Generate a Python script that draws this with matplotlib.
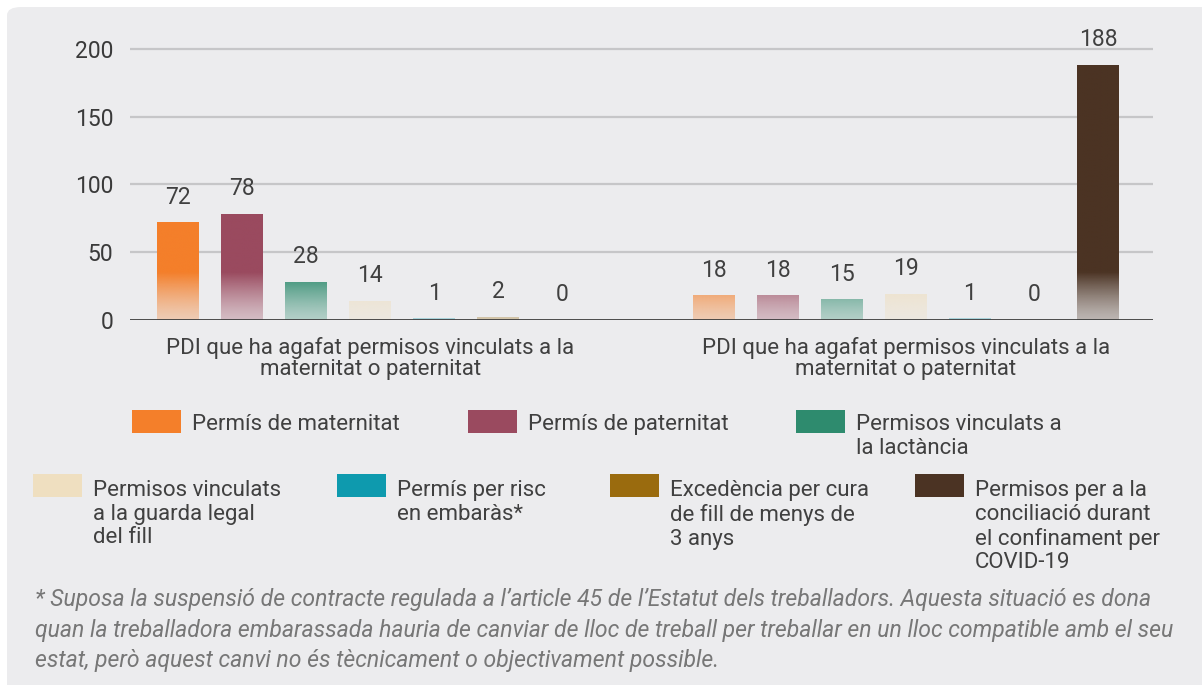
import numpy as np
import matplotlib.pyplot as plt
from matplotlib.patches import FancyBboxPatch, Rectangle
from matplotlib.colors import to_rgb

plt.rcParams['font.family'] = ['Roboto', 'DejaVu Sans']

# -------------------------------
# Data
# -------------------------------

groups = ["PDI que ha agafat permisos vinculats a la\nmaternitat o paternitat",
          "PDI que ha agafat permisos vinculats a la\nmaternitat o paternitat"]

series = ["Permís de maternitat",
          "Permís de paternitat",
          "Permisos vinculats a\nla lactància",
          "Permisos vinculats\na la guarda legal\ndel fill",
          "Permís per risc\nen embaràs*",
          "Excedència per cura\nde fill de menys de\n3 anys",
          "Permisos per a la\nconciliació durant\nel confinament per\nCOVID-19"]

values = [[72, 78, 28, 14, 1, 2, 0],
          [18, 18, 15, 19, 1, 0, 188]]

colors = ['#f47f2a', '#9a4a5f', '#2e8b6e', '#efdfc0', '#0e9aae', '#9a6b0e', '#4b3323']

footnote = ("* Suposa la suspensió de contracte regulada a l’article 45 de l’Estatut dels treballadors. Aquesta situació es dona\n"
            "quan la treballadora embarassada hauria de canviar de lloc de treball per treballar en un lloc compatible amb el seu\n"
            "estat, però aquest canvi no és tècnicament o objectivament possible.")

W, H = 1202, 685
fig = plt.figure(figsize=(W / 100, H / 100), dpi=100)
fig.patch.set_facecolor('white')

# rounded grey panel
panel = FancyBboxPatch((7 / W, -0.02), 1.05, (H - 7) / H + 0.02,
                       boxstyle="round,pad=0,rounding_size=0.012",
                       transform=fig.transFigure, facecolor='#ececee',
                       edgecolor='none', zorder=-10)
fig.patches.append(panel)

ax = fig.add_axes([130 / W, (H - 320) / H, (1153 - 130) / W, 280.5 / H])
ax.set_facecolor('none')

# -------------------------------
# Bars with vertical gradient
# -------------------------------

step = 0.1194
width = 0.078
fade = 35.0
n = len(series)

for g, vals in enumerate(values):
    for j, v in enumerate(vals):
        x = g + (j - (n - 1) / 2) * step
        if v > 0:
            ys = np.linspace(0, v, 200)
            alpha = 0.3 + 0.7 * np.clip(ys / fade, 0, 1) ** 1.3
            img = np.zeros((200, 1, 4))
            img[:, 0, :3] = to_rgb(colors[j])
            img[:, 0, 3] = alpha
            ax.imshow(img, extent=(x - width / 2, x + width / 2, 0, v),
                      origin='lower', aspect='auto', interpolation='bilinear',
                      zorder=3)
        ax.annotate(str(v), (x, v), xytext=(0, 10), textcoords='offset points',
                    ha='center', va='bottom', fontsize=16.5, color='#404040')

ax.set_xlim(-0.448, 1.461)
ax.set_ylim(0, 207)

ax.set_yticks([0, 50, 100, 150, 200])
ax.tick_params(axis='y', length=0, pad=12, labelsize=16.5, labelcolor='#3a3a3a')
ax.set_xticks([])
for s in ax.spines.values():
    s.set_visible(False)
for yv in [50, 100, 150, 200]:
    ax.axhline(yv, color='#c6c6c8', lw=1.6, zorder=1)
ax.axhline(0, color='#3c3c3c', lw=2, zorder=4)

for g, name in enumerate(groups):
    ax.text(g, -12.5, name, ha='center', va='top', fontsize=16,
            color='#404040', linespacing=1.0, transform=ax.transData)

# -------------------------------
# Legend (manual layout)
# -------------------------------

leg_pos = [(132, 410), (468, 410), (796, 410),
           (33, 474), (337, 474), (610, 474), (915, 474)]

for k, ((px, py), lab, c) in enumerate(zip(leg_pos, series, colors)):
    fig.patches.append(Rectangle((px / W, (H - py - 23) / H), 49 / W, 23 / H,
                                 transform=fig.transFigure, facecolor=c,
                                 edgecolor='none'))
    dy = 5 if k < 3 else 7
    fig.text((px + 60) / W, (H - py - dy + 1) / H, lab, ha='left', va='top',
             fontsize=16, color='#404040', linespacing=1.17)

fig.text(35 / W, (H - 588) / H, footnote, ha='left', va='top', fontsize=16.6,
         style='italic', color='#777777', linespacing=1.42)

fig.savefig('out.png', dpi=100, facecolor='white')
